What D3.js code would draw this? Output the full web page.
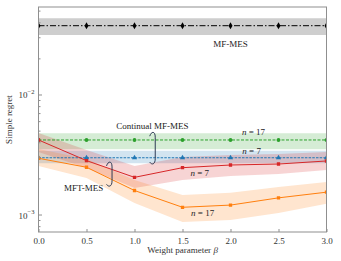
<!DOCTYPE html>
<html>
<head>
<meta charset="utf-8">
<script src="https://cdn.jsdelivr.net/npm/d3@7"></script>
<style>
  body { margin: 0; background: #fff; }
  text { font-family: "Liberation Serif", "DejaVu Serif", serif; }
</style>
</head>
<body>
<div id="chart"></div>
<script>
// Data
var betas = [0, 0.5, 1.0, 1.5, 2.0, 2.5, 3.0];
var xTicks = [0, 0.5, 1.0, 1.5, 2.0, 2.5, 3.0];

var mfMes = [0.0378, 0.0378, 0.0378, 0.0378, 0.0378, 0.0378, 0.0378];
var mfMesLo = [0.0316, 0.0316, 0.0316, 0.0316, 0.0316, 0.0316, 0.0316];
var mfMesHi = [0.0435, 0.0435, 0.0435, 0.0435, 0.0435, 0.0435, 0.0435];

var contN17 = [0.00422, 0.00422, 0.00422, 0.00422, 0.00422, 0.00422, 0.00422];
var contN17Lo = [0.00353, 0.00353, 0.00353, 0.00353, 0.00353, 0.00353, 0.00353];
var contN17Hi = [0.0048, 0.0048, 0.0048, 0.0048, 0.0048, 0.0048, 0.0048];

var contN7 = [0.0030, 0.0030, 0.0030, 0.0030, 0.0030, 0.0030, 0.0030];
var contN7Lo = [0.0027, 0.0027, 0.0027, 0.0027, 0.0027, 0.0027, 0.0027];
var contN7Hi = [0.00343, 0.00343, 0.00343, 0.00343, 0.00343, 0.00343, 0.00343];

var mftN7 = [0.00422, 0.00284, 0.00206, 0.00248, 0.00261, 0.00266, 0.00282];
var mftN7Lo = [0.00335, 0.00246, 0.00168, 0.00196, 0.00211, 0.00220, 0.00237];
var mftN7Hi = [0.00482, 0.00348, 0.00256, 0.00304, 0.00316, 0.00322, 0.00335];

var mftN17 = [0.00297, 0.00250, 0.00160, 0.00116, 0.00121, 0.00139, 0.00155];
var mftN17Lo = [0.00256, 0.00203, 0.00126, 0.000874, 0.000909, 0.00104, 0.00124];
var mftN17Hi = [0.00355, 0.00293, 0.00196, 0.00147, 0.00153, 0.00171, 0.00188];

var width = 341, height = 261;
var margin = { top: 7, right: 14.5, bottom: 29, left: 38.5 };

var svg = d3.select("#chart").append("svg")
    .attr("width", width)
    .attr("height", height);

var x = d3.scaleLinear()
    .domain([0, 3])
    .range([margin.left, width - margin.right]);
var y = d3.scaleLog()
    .domain([0.000722, 0.0541])
    .range([height - margin.bottom, margin.top]);

var series = [
    { mean: mfMes, lo: mfMesLo, hi: mfMesHi, color: "#000000", band: "#bdbdbd", bandOp: 0.75, dash: "6,2,1.5,2", marker: "diamond" },
    { mean: contN17, lo: contN17Lo, hi: contN17Hi, color: "#2ca02c", band: "#2ca02c", bandOp: 0.2, dash: "3,1.5", marker: "circle" },
    { mean: contN7, lo: contN7Lo, hi: contN7Hi, color: "#1f77b4", band: "#1f77b4", bandOp: 0.2, dash: "2.5,1.2", marker: "triangle" },
    { mean: mftN7, lo: mftN7Lo, hi: mftN7Hi, color: "#d62728", band: "#d62728", bandOp: 0.2, dash: null, marker: "square" },
    { mean: mftN17, lo: mftN17Lo, hi: mftN17Hi, color: "#ff7f0e", band: "#ff7f0e", bandOp: 0.2, dash: null, marker: "square" }
];

var clip = svg.append("clipPath").attr("id", "plotclip")
    .append("rect")
    .attr("x", margin.left).attr("y", margin.top)
    .attr("width", width - margin.left - margin.right)
    .attr("height", height - margin.top - margin.bottom);

var plot = svg.append("g").attr("clip-path", "url(#plotclip)");

var area = d3.area()
    .x((d, i) => x(betas[i]))
    .y0(d => y(d[0]))
    .y1(d => y(d[1]));
var line = d3.line()
    .x((d, i) => x(betas[i]))
    .y(d => y(d));

// bands
series.forEach(function (s) {
    plot.append("path")
        .datum(s.lo.map((v, i) => [v, s.hi[i]]))
        .attr("fill", s.band)
        .attr("fill-opacity", s.bandOp)
        .attr("d", area);
});

// lines and markers
var symbols = {
    diamond: d3.symbol().type(d3.symbolDiamond).size(14),
    circle: d3.symbol().type(d3.symbolCircle).size(12),
    triangle: d3.symbol().type(d3.symbolTriangle).size(12),
    square: d3.symbol().type(d3.symbolSquare).size(11)
};
series.forEach(function (s) {
    plot.append("path")
        .datum(s.mean)
        .attr("fill", "none")
        .attr("stroke", s.color)
        .attr("stroke-width", 1)
        .attr("stroke-dasharray", s.dash)
        .attr("d", line);
    plot.append("g")
        .selectAll("path")
        .data(s.mean)
        .join("path")
        .attr("transform", (d, i) => `translate(${x(betas[i])},${y(d)})`)
        .attr("fill", s.color)
        .attr("d", symbols[s.marker]());
});

// frame
svg.append("rect")
    .attr("x", margin.left).attr("y", margin.top)
    .attr("width", width - margin.left - margin.right)
    .attr("height", height - margin.top - margin.bottom)
    .attr("fill", "none")
    .attr("stroke", "#8f8f8f")
    .attr("stroke-width", 1);

// x axis
var xAxis = svg.append("g")
    .attr("transform", `translate(0,${height - margin.bottom})`)
    .call(d3.axisBottom(x).tickValues(xTicks).tickFormat(d3.format(".1f")).tickSize(0).tickPadding(6));
xAxis.select(".domain").remove();
xAxis.selectAll(".tick text").attr("font-size", 9).attr("fill", "#333");
xAxis.selectAll(".tick").append("line")
    .attr("y2", -3).attr("stroke", "#8f8f8f");

// y axis with log ticks
var majors = [0.001, 0.01];
var minors = y.ticks().filter(v => majors.indexOf(v) < 0 && v > y.domain()[0] && v < y.domain()[1]);
var yAxis = svg.append("g").attr("transform", `translate(${margin.left},0)`);
yAxis.selectAll("line.minor")
    .data(minors)
    .join("line")
    .attr("class", "minor")
    .attr("x1", 0).attr("x2", 2)
    .attr("y1", d => y(d)).attr("y2", d => y(d))
    .attr("stroke", "#8f8f8f");
yAxis.selectAll("line.major")
    .data(majors)
    .join("line")
    .attr("class", "major")
    .attr("x1", 0).attr("x2", 3.5)
    .attr("y1", d => y(d)).attr("y2", d => y(d))
    .attr("stroke", "#8f8f8f");
var yLab = yAxis.selectAll("text.ylab")
    .data(majors)
    .join("text")
    .attr("class", "ylab")
    .attr("x", -4)
    .attr("y", d => y(d) + 3.5)
    .attr("text-anchor", "end")
    .attr("font-size", 9)
    .attr("fill", "#333");
yLab.append("tspan").text("10");
yLab.append("tspan")
    .attr("dy", -4.5)
    .attr("font-size", 6.5)
    .text(d => "\u2212" + Math.round(-Math.log10(d)));

// axis titles
svg.append("text")
    .attr("transform", `translate(12,${(margin.top + height - margin.bottom) / 2}) rotate(-90)`)
    .attr("text-anchor", "middle")
    .attr("font-size", 9)
    .attr("fill", "#333")
    .text("Simple regret");
var xt = svg.append("text")
    .attr("x", (margin.left + width - margin.right) / 2)
    .attr("y", height - 8)
    .attr("text-anchor", "middle")
    .attr("font-size", 9)
    .attr("fill", "#333");
xt.append("tspan").text("Weight parameter ");
xt.append("tspan").attr("font-style", "italic").text("\u03b2");

// annotations
function label(bx, vy, anchor, parts) {
    var t = svg.append("text")
        .attr("x", x(bx))
        .attr("y", y(vy))
        .attr("dy", "0.35em")
        .attr("text-anchor", anchor)
        .attr("font-size", 9)
        .attr("fill", "#222");
    parts.forEach(function (p) {
        t.append("tspan").attr("font-style", p[1] ? "italic" : null).text(p[0]);
    });
}
label(2.0, 0.0266, "middle", [["MF-MES"]]);
label(0.81, 0.00552, "start", [["Continual MF-MES"]]);
label(0.47, 0.00168, "middle", [["MFT-MES"]]);
label(2.24, 0.00492, "middle", [["n", true], [" = 17"]]);
label(2.22, 0.00341, "middle", [["n", true], [" = 7"]]);
label(1.68, 0.00224, "middle", [["n", true], [" = 7"]]);
label(1.71, 0.00104, "middle", [["n", true], [" = 17"]]);

// curly brackets grouping the series
function bracket(bx, vTop, vBot) {
    var cx = x(bx), t = y(vTop), b = y(vBot);
    var p = d3.path();
    p.moveTo(cx - 3, t + 4);
    p.bezierCurveTo(cx - 1.5, t - 1, cx + 2.5, t - 1.5, cx + 2.5, t + 5);
    p.lineTo(cx + 2.5, b - 5);
    p.bezierCurveTo(cx + 2.5, b + 1, cx - 1, b + 1.5, cx - 3, b - 1.5);
    svg.append("path")
        .attr("d", p.toString())
        .attr("fill", "none")
        .attr("stroke", "#2e3b55")
        .attr("stroke-width", 1);
}
bracket(1.19, 0.0049, 0.00268);
bracket(0.74, 0.00277, 0.00175);
</script>
</body>
</html>
